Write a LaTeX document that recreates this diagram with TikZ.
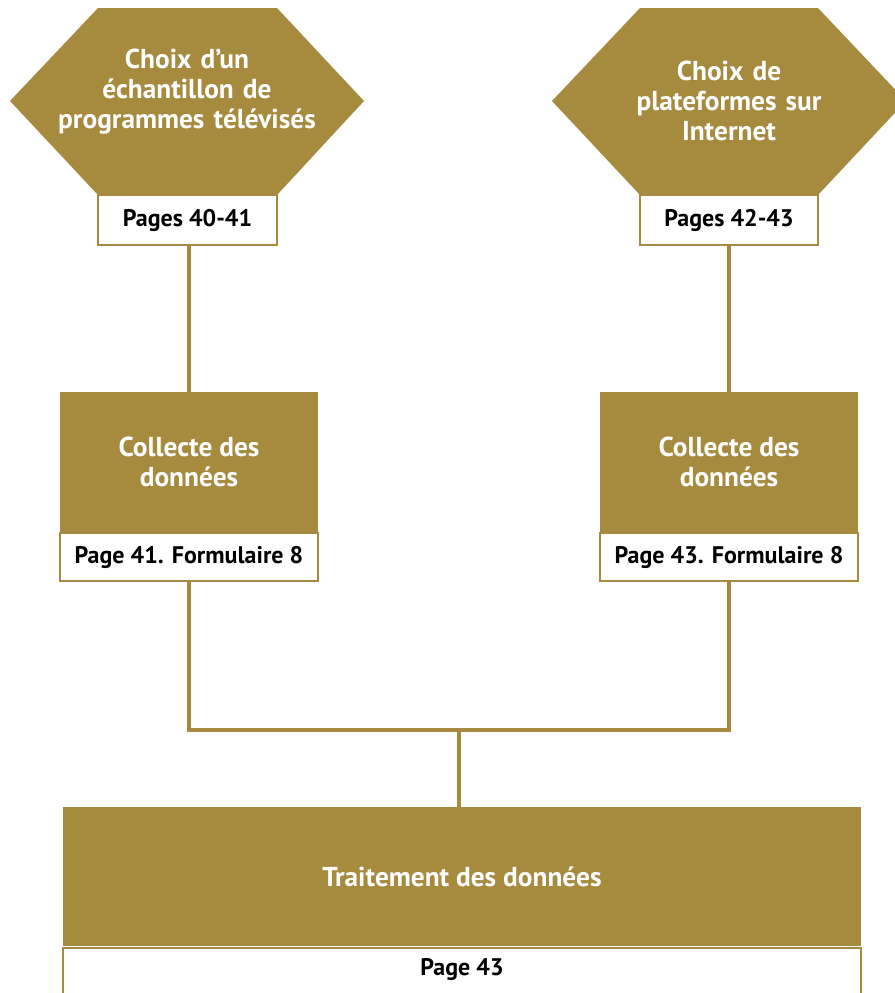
\documentclass[tikz,border=0pt]{standalone}
\usepackage{fontspec}
\setmainfont{PT Sans}
\usepackage{tikz}
\usetikzlibrary{positioning}

\definecolor{gold}{RGB}{166,139,63}

\tikzset{
  hextext/.style={text=white,font=\bfseries\fontsize{20.5}{22.5}\selectfont,align=center,text width=200pt},
  goldbox/.style={fill=gold,text=white,font=\bfseries\fontsize{20.5}{23}\selectfont,align=center,inner sep=0pt},
  pagebox/.style={draw=gold,line width=1.6pt,fill=white,text=black,font=\bfseries\fontsize{18}{20}\selectfont,inner sep=0pt},
  link/.style={draw=gold,line width=3.2pt}
}

\begin{document}
\begin{tikzpicture}[x=0.75pt,y=-0.75pt]
\useasboundingbox (0,0) rectangle (895,993);

% hexagons
\fill[gold] (98,8) -- (277,8) -- (364,101) -- (277,195) -- (98,195) -- (10,101) -- cycle;
\fill[gold] (640,8) -- (818,8) -- (906,101) -- (818,195) -- (640,195) -- (552,101) -- cycle;

\node[hextext] (choixtv) at (187,92) {Choix d’un\\échantillon de\\programmes télévisés};
\node[hextext] (choixweb) at (729,101) {Choix de\\plateformes sur\\Internet};

\node[pagebox,minimum width=134pt,minimum height=37.5pt] (pagestv) at (187.5,220) {Pages 40-41};
\node[pagebox,minimum width=133.5pt,minimum height=37.5pt] (pagesweb) at (729,220) {Pages 42-43};

% collecte
\node[goldbox,minimum width=193.5pt,minimum height=105pt] (collectetv) at (189,462) {Collecte des\\données};
\node[pagebox,minimum width=193.5pt,minimum height=36pt,below=0pt of collectetv] (formtv) {Page 41. Formulaire 8};
\node[goldbox,minimum width=193.5pt,minimum height=105pt] (collecteweb) at (729,462) {Collecte des\\données};
\node[pagebox,minimum width=193.5pt,minimum height=36pt,below=0pt of collecteweb] (formweb) {Page 43. Formulaire 8};

% traitement
\node[goldbox,minimum width=599pt,minimum height=104pt] (traitement) at (462,876.5) {Traitement des données};
\node[pagebox,minimum width=599pt,minimum height=42pt,below=0pt of traitement,yshift=-0.8pt] (pagefin) {};
\node[font=\bfseries\fontsize{18}{20}\selectfont] (pagefintext) at (462,970) {Page 43};

\coordinate (jonction) at (459,730);

\path[link] (pagestv.south -| collectetv) -- (collectetv)
            (pagesweb) -- (collecteweb)
            (formtv) |- (jonction) -| (formweb)
            (jonction) -- (jonction |- traitement.north);

\end{tikzpicture}
\end{document}
